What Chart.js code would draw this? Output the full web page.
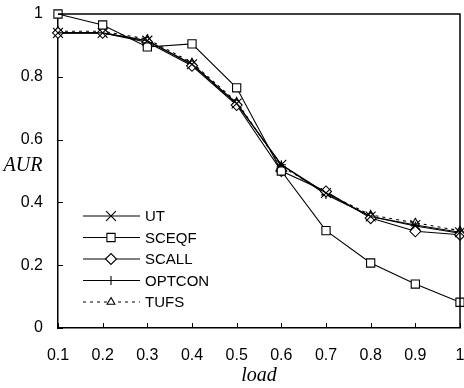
<!DOCTYPE html>
<html>
<head>
<meta charset="utf-8">
<script src="https://cdn.jsdelivr.net/npm/chart.js@4.4.1/dist/chart.umd.min.js"></script>
<style>
  html, body { margin: 0; padding: 0; background: #fff; }
  #wrap { width: 464px; height: 388px; }
</style>
</head>
<body>
<div id="wrap"><canvas id="aur-chart" width="464" height="388"></canvas></div>
<script>
// load values on the x axis
const loads = [0.1, 0.2, 0.3, 0.4, 0.5, 0.6, 0.7, 0.8, 0.9, 1.0];

// AUR per scheme
const utAur     = [0.94, 0.94, 0.915, 0.84, 0.715, 0.52, 0.43, 0.355, 0.328, 0.305];
const sceqfAur  = [1.0, 0.965, 0.895, 0.905, 0.765, 0.5, 0.31, 0.207, 0.14, 0.082];
const scallAur  = [0.94, 0.94, 0.91, 0.835, 0.71, 0.5, 0.435, 0.35, 0.308, 0.297];
const optconAur = [0.94, 0.94, 0.915, 0.84, 0.715, 0.52, 0.425, 0.355, 0.325, 0.302];
const tufsAur   = [0.945, 0.945, 0.92, 0.845, 0.72, 0.515, 0.43, 0.36, 0.335, 0.31];

const xTicks = [0.1, 0.2, 0.3, 0.4, 0.5, 0.6, 0.7, 0.8, 0.9, 1];
const yTicks = [0, 0.2, 0.4, 0.6, 0.8, 1];

const tickFont = { family: '"Liberation Sans", Arial, sans-serif', size: 16 };
const titleFont = '"Liberation Serif", "Times New Roman", serif';

function pairs(ys) {
    return loads.map((x, i) => ({ x: x, y: ys[i] }));
}

function series(label, ys, style, radius, dash) {
    return {
        label: label,
        data: pairs(ys),
        borderColor: '#000',
        borderWidth: 1.1,
        borderDash: dash || [],
        pointStyle: style,
        pointRadius: radius,
        pointBackgroundColor: '#fff',
        pointBorderColor: '#000',
        pointBorderWidth: 1.1,
        tension: 0,
        fill: false,
        clip: false
    };
}

const datasets = [
    series('UT', utAur, 'crossRot', 7),
    series('SCEQF', sceqfAur, 'rect', 5.8),
    series('SCALL', scallAur, 'rectRot', 5.5),
    series('OPTCON', optconAur, 'cross', 4.5),
    series('TUFS', tufsAur, 'triangle', 4.5, [3, 4])
];

// inward ticks, top/right frame, horizontal y title and the legend box
const decorations = {
    id: 'decorations',
    afterDraw(chart) {
        const ctx = chart.ctx;
        const area = chart.chartArea;
        const xs = chart.scales.x;
        const ys = chart.scales.y;
        ctx.save();
        ctx.strokeStyle = '#000';
        ctx.lineWidth = 1.5;
        ctx.beginPath();
        ctx.moveTo(area.left, area.top);
        ctx.lineTo(area.right, area.top);
        ctx.lineTo(area.right, area.bottom);
        ctx.stroke();

        ctx.lineWidth = 1;
        ctx.beginPath();
        xTicks.forEach(v => {
            const px = Math.round(xs.getPixelForValue(v)) + 0.5;
            ctx.moveTo(px, area.bottom);
            ctx.lineTo(px, area.bottom - 5);
        });
        yTicks.forEach(v => {
            const py = Math.round(ys.getPixelForValue(v)) + 0.5;
            ctx.moveTo(area.left, py);
            ctx.lineTo(area.left + 5, py);
        });
        ctx.stroke();

        ctx.fillStyle = '#000';
        ctx.font = 'italic 20px ' + titleFont;
        ctx.textAlign = 'center';
        ctx.textBaseline = 'alphabetic';
        ctx.fillText('AUR', 23, 171);

        // legend
        const lx0 = area.left + 25, lx1 = area.left + 82, mx = area.left + 53;
        ctx.font = '15px ' + tickFont.family;
        ctx.textAlign = 'left';
        ctx.textBaseline = 'middle';
        chart.data.datasets.forEach((ds, i) => {
            const y = 216 + i * 21.5;
            ctx.strokeStyle = '#000';
            ctx.lineWidth = ds.borderWidth;
            ctx.setLineDash(ds.borderDash);
            ctx.beginPath();
            ctx.moveTo(lx0, y);
            ctx.lineTo(lx1, y);
            ctx.stroke();
            ctx.setLineDash([]);
            ctx.fillStyle = '#fff';
            Chart.helpers.drawPoint(ctx, {
                pointStyle: ds.pointStyle,
                radius: ds.pointRadius,
                rotation: 0,
                borderWidth: 1
            }, mx, y);
            ctx.fillStyle = '#000';
            ctx.fillText(ds.label, area.left + 87, y + 1);
        });
        ctx.restore();
    }
};

const chart = new Chart(document.getElementById('aur-chart'), {
    type: 'line',
    data: { datasets: datasets },
    options: {
        responsive: false,
        animation: false,
        events: [],
        layout: { autoPadding: false, padding: { left: 0, right: 4, top: 14, bottom: 0 } },
        plugins: { legend: { display: false }, tooltip: { enabled: false } },
        scales: {
            x: {
                type: 'linear',
                min: 0.1,
                max: 1,
                afterBuildTicks: s => { s.ticks = xTicks.map(v => ({ value: v })); },
                afterFit: s => { s.height = 60; s.paddingLeft = 0; s.paddingRight = 0; },
                grid: { display: false, drawTicks: false },
                border: { display: true, color: '#000', width: 1.5 },
                ticks: {
                    color: '#000',
                    font: tickFont,
                    padding: 18,
                    maxRotation: 0,
                    autoSkip: false,
                    callback: v => String(Math.round(v * 10) / 10)
                },
                title: {
                    display: true,
                    text: 'load',
                    color: '#000',
                    font: { family: titleFont, size: 20, style: 'italic' },
                    padding: { top: 0, bottom: 0 }
                }
            },
            y: {
                type: 'linear',
                min: 0,
                max: 1,
                afterBuildTicks: s => { s.ticks = yTicks.map(v => ({ value: v })); },
                afterFit: s => { s.width = 58; s.paddingTop = 0; s.paddingBottom = 0; },
                grid: { display: false, drawTicks: false },
                border: { display: true, color: '#000', width: 1.5 },
                ticks: {
                    color: '#000',
                    font: tickFont,
                    padding: 15,
                    callback: v => String(Math.round(v * 10) / 10)
                }
            }
        }
    },
    plugins: [decorations]
});
</script>
</body>
</html>
